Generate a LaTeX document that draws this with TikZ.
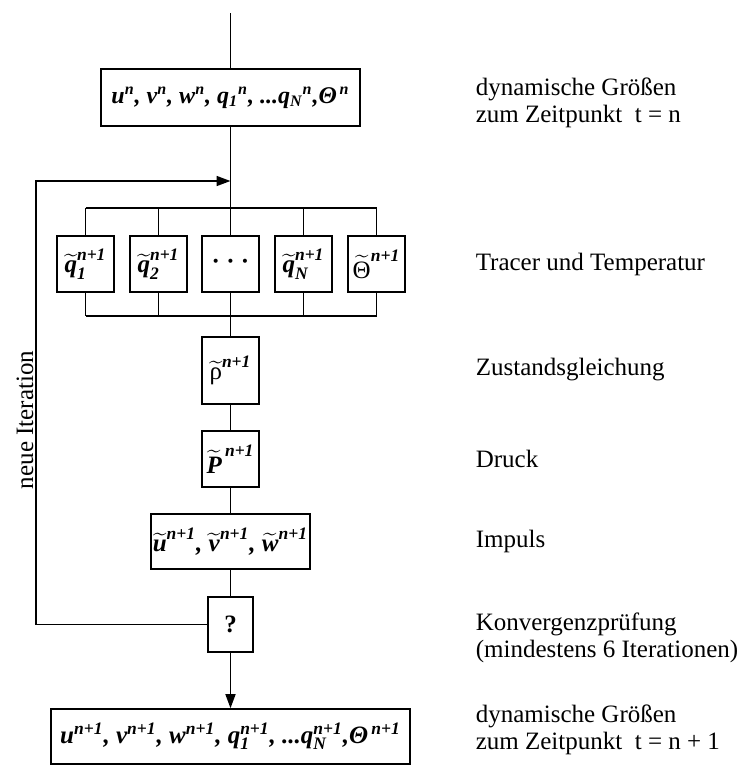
\documentclass[tikz,border=0pt]{standalone}
\usepackage{amsmath}
\usepackage{fontspec}
\setmainfont{Liberation Serif}
\usetikzlibrary{arrows.meta,positioning}
\newcommand{\bfit}[1]{\textbf{\textit{#1}}}

\begin{document}
\begin{tikzpicture}[
  x=0.5pt, y=-0.5pt,
  line width=0.8pt,
  font=\fontsize{12.5}{13.5}\selectfont,
  box/.style={draw=black, fill=white, inner sep=1pt, align=center},
  varbox/.style={box, minimum width=28.5pt, minimum height=28pt},
  note/.style={anchor=west, align=left, inner sep=0pt},
  arrow/.style={-{Triangle[length=7pt,width=5pt]}}
]
\useasboundingbox (0,0) rectangle (739,766);
% Kette von oben nach unten
\coordinate (top) at (230.5,13);
\node[box, minimum width=129.5pt, minimum height=28.5pt, font=\fontsize{12}{13}\selectfont] (dyn) at (230.5,97.5)
  {\bfseries\itshape u$^{\bfit{n}}$, v$^{\bfit{n}}$, w$^{\bfit{n}}$, q$_{\bfit{1}}{}^{\bfit{n}}$, ...q$_{\bfit{N}}{}^{\bfit{n}}$,Θ$^{\,\bfit{n}}$};
\coordinate (merge) at (230.5,181);
\coordinate (bustop) at (230.5,208);
\coordinate (busbot) at (230.5,316);
\node[varbox] (q1) at (85.5,264) {$\widetilde{\bfit{q}}_{\bfit{1}}^{\bfit{n+1}}$};
\node[varbox] (q2) at (158.5,264) {$\widetilde{\bfit{q}}_{\bfit{2}}^{\bfit{n+1}}$};
\node[varbox] (qdots) at (230.5,264) {\textbf{·\ ·\ ·}};
\node[varbox] (qN) at (303.5,264) {$\widetilde{\bfit{q}}_{\bfit{N}}^{\bfit{n+1}}$};
\node[varbox] (theta) at (376.5,264) {$\widetilde{\text{Θ}}^{\bfit{n+1}}$};
\node[box, minimum width=28.5pt, minimum height=33.5pt] (rho) at (230.5,370.5) {$\widetilde{\text{ρ}}^{\bfit{n+1}}$};
\node[box, minimum width=28.5pt, minimum height=28pt] (druck) at (230.5,459) {$\widetilde{\bfit{P}}^{\,\bfit{n+1}}$};
\node[box, minimum width=77.5pt, minimum height=27.5pt] (impuls) at (230.5,541.5)
  {$\widetilde{\bfit{u}}^{\bfit{n+1}}$\bfit{,} $\widetilde{\bfit{v}}^{\bfit{n+1}}$\bfit{,} $\widetilde{\bfit{w}}^{\bfit{n+1}}$};
\node[box, minimum width=22.5pt, minimum height=27.5pt] (check) at (230.5,624.5) {\textbf{?}};
\node[box, minimum width=179.5pt, minimum height=27.5pt] (dynnew) at (230.5,736.5)
  {\bfseries\itshape u$^{\bfit{n+1}}$, v$^{\bfit{n+1}}$, w$^{\bfit{n+1}}$, q$_{\bfit{1}}^{\bfit{n+1}}$, ...q$_{\bfit{N}}^{\bfit{n+1}}$,Θ$^{\,\bfit{n+1}}$};
% Verbindungen
\draw (top) -- (dyn.north);
\draw (dyn.south) -- (bustop);
\draw (q1.north |- bustop) -- (theta.north |- bustop);
\draw (q1.north |- busbot) -- (theta.north |- busbot);
\foreach \v in {q1,q2,qdots,qN,theta} {
  \draw (\v.north) -- (\v.north |- bustop);
  \draw (\v.south) -- (\v.south |- busbot);
}
\draw (busbot) -- (rho.north);
\draw (rho) -- (druck);
\draw (druck) -- (impuls);
\draw (impuls) -- (check);
\draw[arrow] (check.south) -- (dynnew.north);
\draw[arrow] (check.west) -| (36,181) -- (merge);
\node[rotate=90, anchor=base, inner sep=0pt] (iter) at (33,420) {neue Iteration};
% Erlaeuterungen rechts
\node[note] (ldyn) at (475,103) {dynamische Größen\\zum Zeitpunkt\ \ t = n};
\node[note] (ltracer) at (475,264) {Tracer und Temperatur};
\node[note] (lrho) at (475,370) {Zustandsgleichung};
\node[note] (ldruck) at (475,459) {Druck};
\node[note] (limpuls) at (475,541) {Impuls};
\node[note] (lcheck) at (475,638) {Konvergenzprüfung\\(mindestens 6 Iterationen)};
\node[note] (ldynnew) at (475,730) {dynamische Größen\\zum Zeitpunkt\ \ t = n + 1};
\end{tikzpicture}
\end{document}
